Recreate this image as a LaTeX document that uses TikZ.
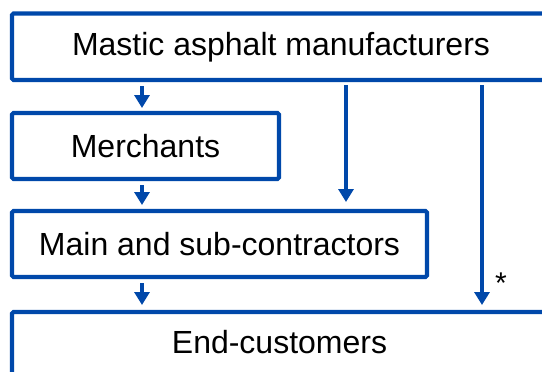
\documentclass[tikz,border=0pt]{standalone}
\usepackage{fontspec}
\setmainfont{Liberation Sans}
\usetikzlibrary{arrows.meta,calc}
\definecolor{lineblue}{RGB}{0,72,170}
\tikzset{
  box/.style={draw=lineblue, line width=4.2pt, rounded corners=1.5pt, rectangle, inner sep=0pt, font=\fontsize{32}{32}\selectfont, text=black},
  arr/.style={draw=lineblue, line width=4.2pt, -{Triangle[width=15pt,length=13pt]}}
}
\begin{document}
\begin{tikzpicture}[x=1pt,y=-1pt]
\useasboundingbox (0,0) rectangle (542,372);
\clip (0,0) rectangle (542,372);
\node[box, minimum width=538pt, minimum height=66.5pt] (top) at (281,46.75) {Mastic asphalt manufacturers};
\node[box, minimum width=267pt, minimum height=66pt] (merch) at (145.5,146) {Merchants};
\node[box, minimum width=415pt, minimum height=66pt] (main) at (219.5,244) {Main and sub-contractors};
\node[box, minimum width=540pt, minimum height=100pt, text depth=0pt] (end) at (282,362) {};
\node[font=\fontsize{32}{32}\selectfont] (endtext) at (279.5,342) {End-customers};
\coordinate (a1s) at (142,86);
\coordinate (a1e) at (142,108);
\coordinate (a2s) at (142,185);
\coordinate (a2e) at (142,205);
\coordinate (a3s) at (142,283);
\coordinate (a3e) at (142,305);
\coordinate (a4s) at (346,85);
\coordinate (a4e) at (346,202);
\coordinate (a5s) at (482,85);
\coordinate (a5e) at (482,305);
\draw[arr] (a1s) -- (a1e);
\draw[arr] (a2s) -- (a2e);
\draw[arr] (a3s) -- (a3e);
\draw[arr] (a4s) -- (a4e);
\draw[arr] (a5s) -- (a5e);
\node[font=\fontsize{30}{30}\selectfont] (star) at (501,283) {*};
\end{tikzpicture}
\end{document}
